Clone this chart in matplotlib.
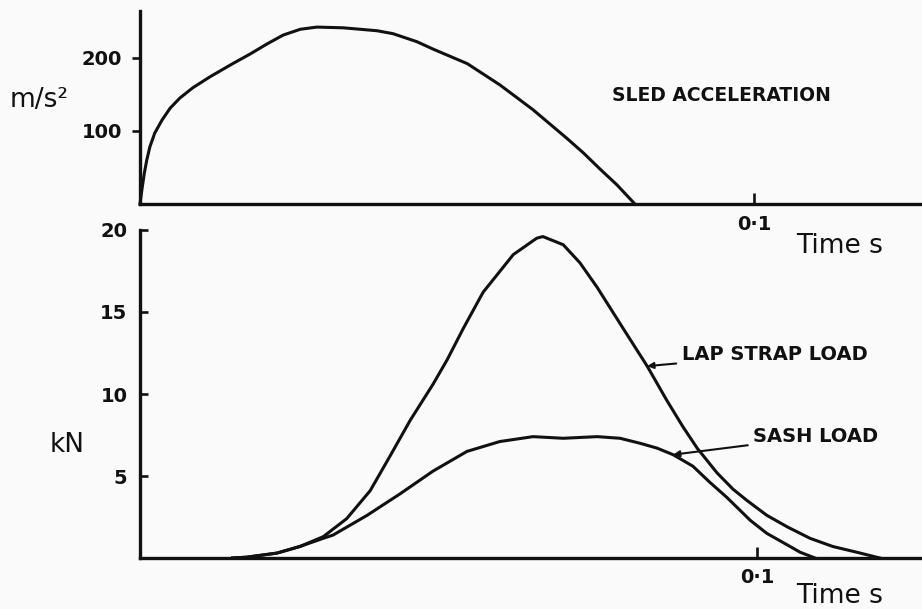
import matplotlib.pyplot as plt

# sled acceleration (top panel), time in s, acceleration in m/s^2
sled_t = [0.0, 0.0003, 0.0007, 0.0011, 0.0016, 0.0024, 0.0036, 0.0049, 0.0065,
          0.0086, 0.0114, 0.0151, 0.0179, 0.0207, 0.0233, 0.0261, 0.0288,
          0.0331, 0.0386, 0.0412, 0.0451, 0.0477, 0.0533, 0.0586, 0.0640,
          0.0695, 0.0722, 0.0749, 0.0777, 0.0806]
sled_acc = [0, 19, 42, 60, 78, 97, 115, 131, 145,
            159, 174, 192, 205, 219, 231, 239, 242,
            241, 237, 233, 222, 212, 192, 163, 129,
            90, 70, 48, 26, 0]

# belt loads (bottom panel), time in s, load in kN
lap_t = [0.0150, 0.0173, 0.0222, 0.0259, 0.0297, 0.0335, 0.0373, 0.0405, 0.0438,
         0.0475, 0.0498, 0.0524, 0.0556, 0.0605, 0.0643, 0.0653, 0.0686,
         0.0713, 0.0741, 0.0783, 0.0822, 0.0854, 0.0880, 0.0903, 0.0935,
         0.0961, 0.0984, 0.1016, 0.1049, 0.1086, 0.1123, 0.1162, 0.1199]
lap_kn = [0.0, 0.05, 0.3, 0.7, 1.3, 2.4, 4.1, 6.2, 8.4,
          10.6, 12.1, 14.0, 16.2, 18.5, 19.5, 19.6, 19.1,
          18.0, 16.5, 14.0, 11.7, 9.6, 8.0, 6.7, 5.2,
          4.2, 3.5, 2.6, 1.9, 1.2, 0.7, 0.35, 0.0]

sash_t = [0.0150, 0.0173, 0.0222, 0.0259, 0.0297, 0.0313, 0.0368, 0.0421, 0.0475,
          0.0530, 0.0583, 0.0637, 0.0686, 0.0741, 0.0778, 0.0810, 0.0838,
          0.0864, 0.0896, 0.0924, 0.0951, 0.0989, 0.1016, 0.1049, 0.1070, 0.1094]
sash_kn = [0.0, 0.05, 0.3, 0.7, 1.2, 1.4, 2.6, 3.9, 5.3,
           6.5, 7.1, 7.4, 7.3, 7.4, 7.3, 7.0, 6.7,
           6.3, 5.6, 4.6, 3.7, 2.3, 1.5, 0.8, 0.35, 0.0]

ink = '#111111'
paper = '#fafafa'

fig = plt.figure(figsize=(9.22, 6.09), dpi=100, facecolor=paper)

ax1 = fig.add_axes([140 / 922, 1 - 204 / 609, 782 / 922, 193 / 609])
ax2 = fig.add_axes([140 / 922, 1 - 558 / 609, 782 / 922, 328 / 609])

for ax in (ax1, ax2):
    ax.set_facecolor(paper)
    for side in ('top', 'right'):
        ax.spines[side].set_visible(False)
    for side in ('left', 'bottom'):
        ax.spines[side].set_linewidth(2.4)
        ax.spines[side].set_color(ink)

# top panel
ax1.plot(sled_t, sled_acc, color=ink, lw=2.2, solid_joinstyle='round', clip_on=False)
ax1.set_xlim(0, 782 / 6140)
ax1.set_ylim(0, 264)
ax1.set_yticks([100, 200])
ax1.set_yticklabels(['100', '200'])
ax1.set_xticks([0.1])
ax1.set_xticklabels(['0·1'])
ax1.tick_params(axis='y', direction='out', length=6, width=1.9, pad=7,
                labelsize=14, colors=ink)
ax1.tick_params(axis='x', direction='in', length=8, width=1.9, pad=8,
                labelsize=14, colors=ink)
ax1.text(0.0769, (204 - 101) / 0.73, 'SLED ACCELERATION', fontsize=13.5,
         fontweight='bold', color=ink, ha='left', va='baseline')

# bottom panel
ax2.plot(lap_t, lap_kn, color=ink, lw=2.2, solid_joinstyle='round', clip_on=False)
ax2.plot(sash_t, sash_kn, color=ink, lw=2.2, solid_joinstyle='round', clip_on=False)
ax2.set_xlim(0, 782 / 6170)
ax2.set_ylim(0, 20)
ax2.set_yticks([5, 10, 15, 20])
ax2.set_yticklabels(['5', '10', '15', '20'])
ax2.set_xticks([0.1])
ax2.set_xticklabels(['0·1'])
ax2.tick_params(axis='y', direction='in', length=6, width=1.9, pad=9,
                labelsize=14, colors=ink)
ax2.tick_params(axis='x', direction='in', length=8, width=1.9, pad=7,
                labelsize=14, colors=ink)

arrow = dict(arrowstyle='-|>', color=ink, lw=1.5, mutation_scale=9,
             shrinkA=2, shrinkB=0)
ax2.annotate('LAP STRAP LOAD', xy=(0.0822, 11.7), xytext=(0.0878, 12.4),
             fontsize=14, fontweight='bold', color=ink, ha='left', va='center',
             arrowprops=arrow)
ax2.annotate('SASH LOAD', xy=(0.0864, 6.3), xytext=(0.0994, 7.4),
             fontsize=14, fontweight='bold', color=ink, ha='left', va='center',
             arrowprops=arrow)

for lbl in ax1.get_xticklabels() + ax1.get_yticklabels() + \
        ax2.get_xticklabels() + ax2.get_yticklabels():
    lbl.set_fontweight('bold')

# axis labels placed like the original drawing
fig.text(10 / 922, 1 - 107 / 609, 'm/s²', fontsize=19, color=ink, ha='left', va='baseline')
fig.text(50 / 922, 1 - 452 / 609, 'kN', fontsize=19, color=ink, ha='left', va='baseline')
fig.text(796 / 922, 1 - 253 / 609, 'Time s', fontsize=19, color=ink, ha='left', va='baseline')
fig.text(796 / 922, 1 - 603 / 609, 'Time s', fontsize=19, color=ink, ha='left', va='baseline')

fig.savefig('out.png', dpi=100, facecolor=paper)
